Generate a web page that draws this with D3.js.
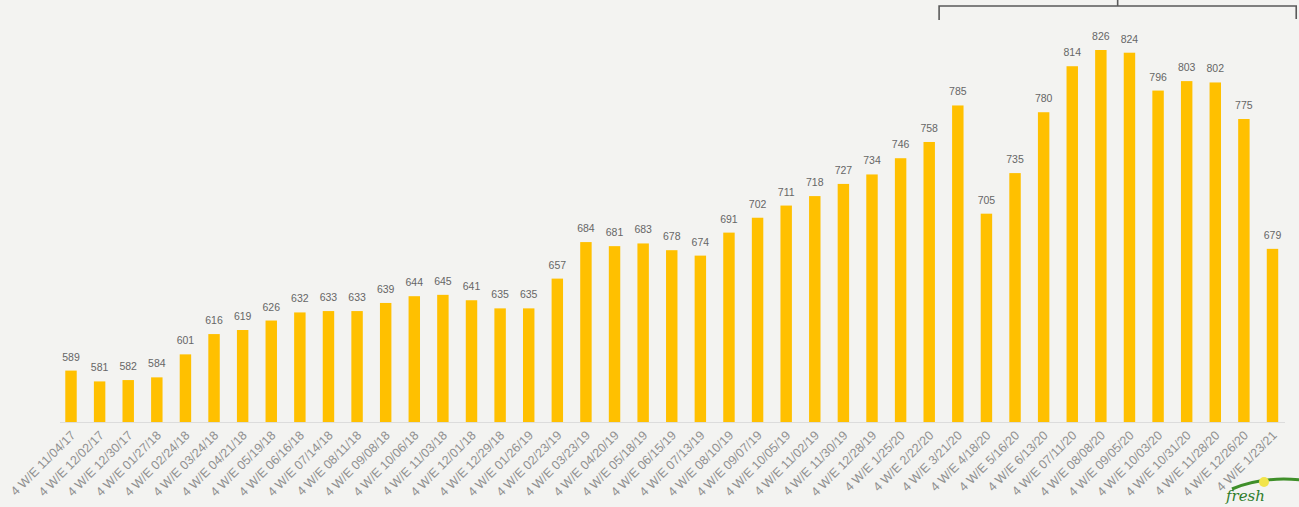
<!DOCTYPE html>
<html>
<head>
<meta charset="utf-8">
<script src="https://cdn.jsdelivr.net/npm/d3@7"></script>
<style>
  html, body { margin: 0; padding: 0; background: #f3f3f1; }
  svg { display: block; }
</style>
</head>
<body>
<svg id="chart" width="1299" height="507"></svg>
<script>
// Four-week period ending dates
const periods = [
  "11/04/17", "12/02/17", "12/30/17", "01/27/18", "02/24/18", "03/24/18", "04/21/18",
  "05/19/18", "06/16/18", "07/14/18", "08/11/18", "09/08/18", "10/06/18", "11/03/18",
  "12/01/18", "12/29/18", "01/26/19", "02/23/19", "03/23/19", "04/20/19", "05/18/19",
  "06/15/19", "07/13/19", "08/10/19", "09/07/19", "10/05/19", "11/02/19", "11/30/19",
  "12/28/19", "1/25/20", "2/22/20", "3/21/20", "4/18/20", "5/16/20", "6/13/20",
  "07/11/20", "08/08/20", "09/05/20", "10/03/20", "10/31/20", "11/28/20", "12/26/20",
  "1/23/21"
];
const labelPrefix = "4 W/E ";

// Value per period
const values = [
  589, 581, 582, 584, 601, 616, 619, 626, 632, 633, 633, 639, 644, 645,
  641, 635, 635, 657, 684, 681, 683, 678, 674, 691, 702, 711, 718, 727,
  734, 746, 758, 785, 705, 735, 780, 814, 826, 824, 796, 803, 802, 775,
  679
];

// Periods spanned by the bracket at the top
const bracketFrom = "3/21/20";
const bracketTo = "1/23/21";

const data = periods.map((p, i) => ({ period: p, value: values[i] }));

const svg = d3.select("#chart");
const baseline = 422;

const x = d3.scaleBand()
  .domain(periods)
  .range([56.7, 1286.8])
  .paddingInner(0.6)
  .paddingOuter(0.3);

const y = d3.scaleLinear()
  .domain([551, 826])
  .range([baseline, 50]);

// Category axis: faint baseline with rotated period labels
const xAxis = d3.axisBottom(x)
  .tickSize(0)
  .tickPadding(0)
  .tickFormat(d => labelPrefix + d);

const gx = svg.append("g")
  .attr("transform", `translate(0,${baseline})`)
  .call(xAxis);

gx.select(".domain")
  .attr("stroke", "#dcdcdc")
  .attr("stroke-width", 1)
  .attr("d", `M60,0.5H1285`);

gx.selectAll(".tick text")
  .attr("font-family", "'Liberation Sans', Arial, sans-serif")
  .attr("font-size", 12.5)
  .attr("fill", "#909090")
  .attr("text-anchor", "end")
  .attr("dy", "0.35em")
  .attr("transform", "translate(2,11) rotate(-45)");

// Bars
svg.append("g")
  .selectAll("rect")
  .data(data)
  .join("rect")
  .attr("x", d => x(d.period))
  .attr("width", x.bandwidth())
  .attr("y", d => y(d.value))
  .attr("height", d => baseline - y(d.value))
  .attr("fill", "#ffc000");

// Value labels
svg.append("g")
  .selectAll("text")
  .data(data)
  .join("text")
  .attr("x", d => x(d.period) + x.bandwidth() / 2)
  .attr("y", d => y(d.value) - 10)
  .attr("text-anchor", "middle")
  .attr("font-family", "'Liberation Sans', Arial, sans-serif")
  .attr("font-size", 10.5)
  .attr("fill", "#666")
  .text(d => d.value);

// Bracket over the later periods
const bx0 = x(bracketFrom) - 13;
const bx1 = x(bracketTo) + x.bandwidth() + 18;
const bmid = (bx0 + bx1) / 2;
const by = 6;
svg.append("path")
  .attr("d", `M${bx0},20V${by}H${bx1}V19M${bmid},${by}V0`)
  .attr("fill", "none")
  .attr("stroke", "#5a5a5a")
  .attr("stroke-width", 1.6);

// Brand mark in the corner
const logo = svg.append("g").attr("transform", "translate(1222,507)");
logo.append("path")
  .attr("d", "M10,-18 Q40,-31 80,-27")
  .attr("fill", "none")
  .attr("stroke", "#3f8f2a")
  .attr("stroke-width", 3);
logo.append("circle")
  .attr("cx", 42).attr("cy", -25).attr("r", 5)
  .attr("fill", "#f2e44a");
logo.append("text")
  .attr("x", 4).attr("y", -6)
  .attr("font-family", "'DejaVu Serif', serif")
  .attr("font-style", "italic")
  .attr("font-size", 15)
  .attr("fill", "#2f7d2a")
  .text("fresh");
</script>
</body>
</html>
